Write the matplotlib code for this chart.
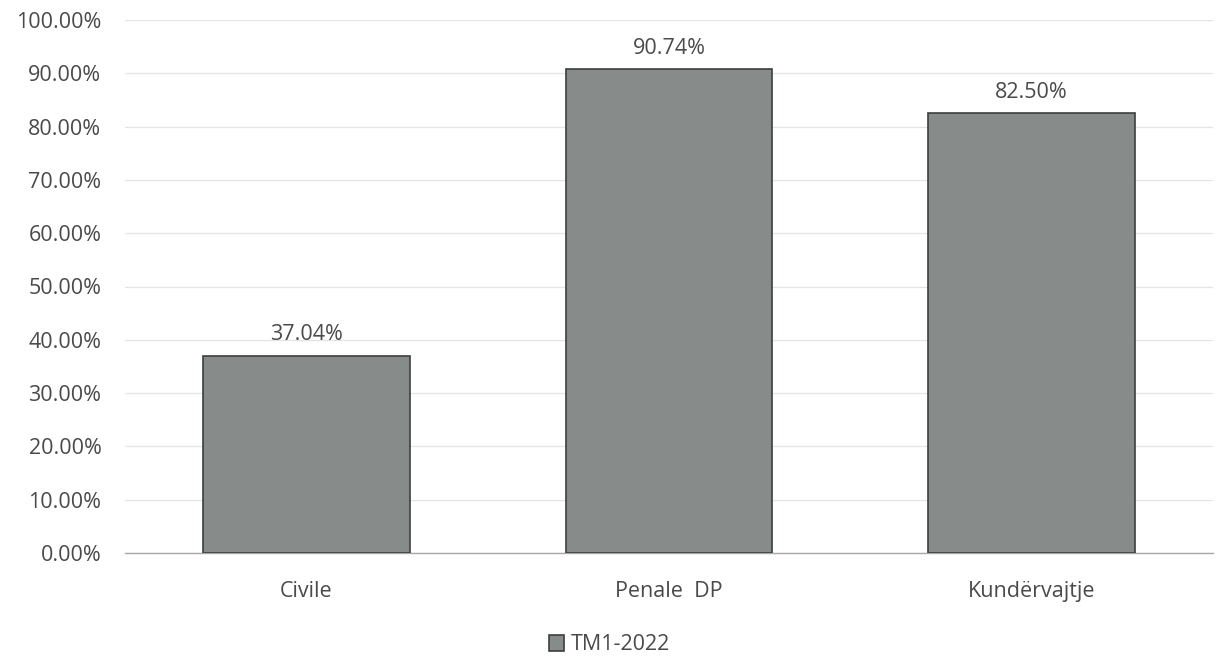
import matplotlib
matplotlib.use("Agg")
import matplotlib.pyplot as plt
from matplotlib.ticker import FuncFormatter

categories = ["Civile", "Penale  DP", "Kundërvajtje"]
values = [37.04, 90.74, 82.50]
series_name = "TM1-2022"

plt.rcParams['font.family'] = ['Open Sans', 'DejaVu Sans']
text_color = '#4a4a4a'
fs = 15.5

fig = plt.figure(figsize=(12.19, 6.59), dpi=100)
ax = fig.add_axes([125/1219, 1-553/659, (1213-125)/1219, (553-20)/659])

x = range(len(categories))
bars = ax.bar(x, values, width=0.57, color='#878c8a', edgecolor='#3c3f3e', linewidth=1.2,
              label=series_name, zorder=3)
for xi, v in zip(x, values):
    ax.text(xi, v + 2.0, f"{v:.2f}%", ha='center', va='bottom', fontsize=fs, color=text_color)

ax.set_ylim(0, 100)
ax.set_xlim(-0.5, len(categories) - 0.5)
ax.set_yticks(range(0, 101, 10))
ax.yaxis.set_major_formatter(FuncFormatter(lambda v, p: f"{v:.2f}%"))
ax.set_xticks(list(x))
ax.set_xticklabels(categories)
ax.tick_params(axis='both', length=0, labelsize=fs, labelcolor=text_color)
ax.tick_params(axis='x', pad=20)
ax.tick_params(axis='y', pad=17)
ax.grid(axis='y', color='#e4e4e4', linewidth=0.9, zorder=0)
for s in ['top', 'right', 'left']:
    ax.spines[s].set_visible(False)
ax.spines['bottom'].set_color('#a8a8a8')
ax.spines['bottom'].set_linewidth(1.0)

leg = fig.legend(handles=[bars], labels=[series_name], loc='center', bbox_to_anchor=(0.5, 1-645/659),
                 frameon=False, fontsize=fs, handlelength=0.7, handleheight=0.7, handletextpad=0.3)
for t in leg.get_texts():
    t.set_color(text_color)

fig.savefig("out.png", dpi=100)
